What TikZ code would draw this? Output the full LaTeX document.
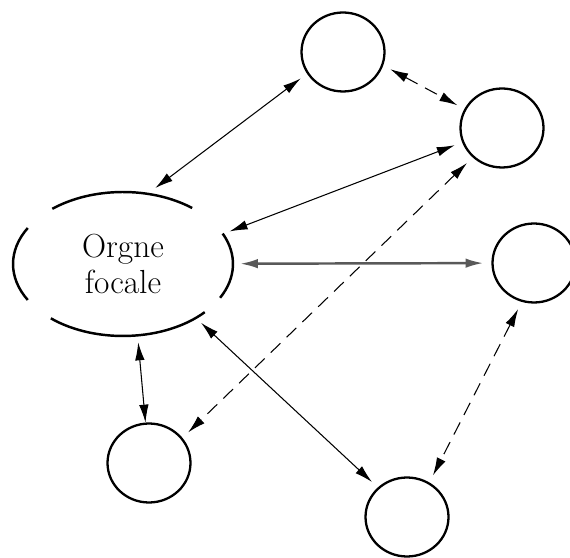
\documentclass[tikz,border=0pt]{standalone}
\usetikzlibrary{arrows.meta,shapes.geometric}
\tikzset{>={Latex[length=3.6mm,width=1.9mm]},
  link/.style={<->,line width=0.6pt},
  dlink/.style={link,dash pattern=on 0.27cm off 0.17cm},
  actor/.style={ellipse,draw,line width=1.3pt,minimum width=1.66cm,minimum height=1.58cm,outer sep=0.18cm},
  focal/.style={ellipse,minimum width=4.4cm,minimum height=2.88cm,outer sep=0.14cm,align=center,font=\fontsize{19}{21}\selectfont}}

\begin{document}
\begin{tikzpicture}[x=0.02cm,y=0.02cm]
              \useasboundingbox (0,0) rectangle (570,557);

              \node[focal] (org) at (123,293) {Orgne\\focale};
              % broken outline
              \foreach \a/\b in {51/130,150/210,229/318,-28/25}
                \draw[line width=1.4pt] ([shift={(\a:2.2cm and 1.44cm)}]org.center)
                  arc[start angle=\a,end angle=\b,x radius=2.2cm,y radius=1.44cm];

              \node[actor] (top) at (343,505) {};
              \node[actor] (upright) at (502,429) {};
              \node[actor] (right) at (534,294) {};
              \node[actor] (botleft) at (149,94) {};
              \node[actor] (botmid) at (407,40) {};

              \path[link]
              (org.67) edge (top.212)
              (org.17) edge (upright.200)
              (org) edge [line width=1.4pt,black!65] (right)
              (org.-37) edge (botmid.135)
              (org.-79) edge [shorten >=-0.16cm] (botleft.95)
              ;
              \path[dlink]
              (top.-20) edge (upright.153)
              (upright.225) edge (botleft.38)
              (right.251) edge (botmid.58)
              ;
            \end{tikzpicture}
\end{document}
